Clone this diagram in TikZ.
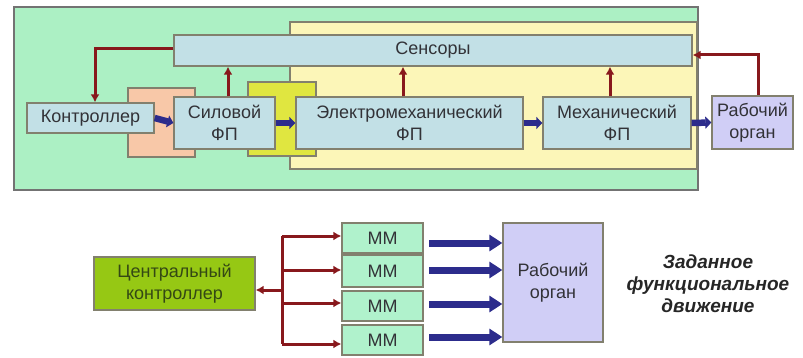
\documentclass[tikz,border=0pt]{standalone}
\usepackage{fontspec}
\setmainfont{Liberation Sans}
\usetikzlibrary{arrows.meta}
\definecolor{mint}{RGB}{172,240,196}
\definecolor{lyellow}{RGB}{252,246,184}
\definecolor{boxblue}{RGB}{194,224,230}
\definecolor{salmon}{RGB}{248,200,168}
\definecolor{byellow}{RGB}{224,230,64}
\definecolor{lavender}{RGB}{208,206,246}
\definecolor{olive}{RGB}{150,200,20}
\definecolor{mmgreen}{RGB}{176,242,204}
\definecolor{dred}{RGB}{136,24,28}
\definecolor{navy}{RGB}{44,44,140}
\definecolor{bord}{RGB}{130,128,110}
\definecolor{txt}{RGB}{50,50,55}
\tikzset{
  blk/.style={draw=bord, line width=1.3pt, fill=boxblue, align=center, inner sep=0pt,
    font=\fontsize{18}{22}\selectfont, text=txt},
  panel/.style={draw=bord, line width=1.3pt},
  fb/.style={draw=dred, line width=3pt, -{Latex[length=8pt,width=9pt]}},
  flow/.style={draw=navy, line width=6.5pt, -{Triangle[length=6pt,width=12pt]}},
  flowb/.style={draw=navy, line width=7pt, -{Triangle[length=13pt,width=16pt]}},
}
\begin{document}
\begin{tikzpicture}[x=1pt,y=-1pt]
\useasboundingbox (0,0) rectangle (803,358);
% panels
\draw[panel, fill=mint, draw=black!55] (14,7) rectangle (698,190);
\draw[panel, fill=lyellow] (290,22) rectangle (697,169);
\draw[panel, fill=salmon] (128,88) rectangle (195,157);
\draw[panel, fill=byellow] (248,82) rectangle (316,156);
% blocks
\node[blk, minimum width=518pt, minimum height=31pt] (sens) at (433,50.5) {Сенсоры};
\node[blk, minimum width=127pt, minimum height=30pt] (ctrl) at (90.5,118) {Контроллер};
\node[blk, minimum width=101pt, minimum height=52pt] (sil) at (224.5,123) {Силовой\\ФП};
\node[blk, minimum width=227pt, minimum height=52pt] (em) at (409.5,123) {Электромеханический\\ФП};
\node[blk, minimum width=148pt, minimum height=52pt] (mech) at (617,123) {Механический\\ФП};
\node[blk, fill=lavender, minimum width=81pt, minimum height=53pt] (ro) at (752.5,122.5) {Рабочий\\орган};
% flow arrows
\draw[flow] (ctrl.east) -- (sil.west);
\draw[flow] (sil.east) -- (em.west);
\draw[flow] (em.east) -- (mech.west);
\draw[flow] (mech.east) -- (ro.west);
% feedback
\draw[fb] (sens.west |- 0,49) -| (95,0 |- ctrl.north);
\draw[fb] (228,0 |- sil.north) -- (228,0 |- sens.south);
\draw[fb] (403,0 |- em.north) -- (403,0 |- sens.south);
\draw[fb] (610,0 |- mech.north) -- (610,0 |- sens.south);
\draw[fb] (758,0 |- ro.north) |- (sens.east |- 0,55);
% bottom
\node[blk, fill=olive, text={rgb,255:red,52;green,72;blue,20}, minimum width=161pt, minimum height=53pt] (cc) at (174.5,283.5) {Центральный\\контроллер};
\node[blk, fill=mmgreen, minimum width=81pt, minimum height=30pt] (mm1) at (382.5,238) {ММ};
\node[blk, fill=mmgreen, minimum width=81pt, minimum height=32pt] (mm2) at (382.5,271) {ММ};
\node[blk, fill=mmgreen, minimum width=81pt, minimum height=30pt] (mm3) at (382.5,306) {ММ};
\node[blk, fill=mmgreen, minimum width=81pt, minimum height=30pt] (mm4) at (382.5,340) {ММ};
\node[blk, fill=lavender, minimum width=100pt, minimum height=119pt] (ro2) at (553,282.5) {Рабочий\\орган};
\coordinate (bus) at (282,290);
\draw[fb] (bus) -- (cc.east |- bus);
\draw[draw=dred, line width=3pt] (282,236) -- (282,344);
\draw[fb] (282,236) -- (mm1.west |- 0,236);
\draw[fb] (282,270) -- (mm2.west |- 0,270);
\draw[fb] (282,303) -- (mm3.west |- 0,303);
\draw[fb] (282,344) -- (mm4.west |- 0,344);
\draw[flowb] (429,243) -- (ro2.west |- 0,243);
\draw[flowb] (429,270) -- (ro2.west |- 0,270);
\draw[flowb] (429,304) -- (ro2.west |- 0,304);
\draw[flowb] (429,337) -- (ro2.west |- 0,337);
\node[align=center, font=\fontsize{19}{22}\selectfont\bfseries\itshape, text=black!85] (goal) at (708,284) {Заданное\\функциональное\\движение};
\end{tikzpicture}
\end{document}
